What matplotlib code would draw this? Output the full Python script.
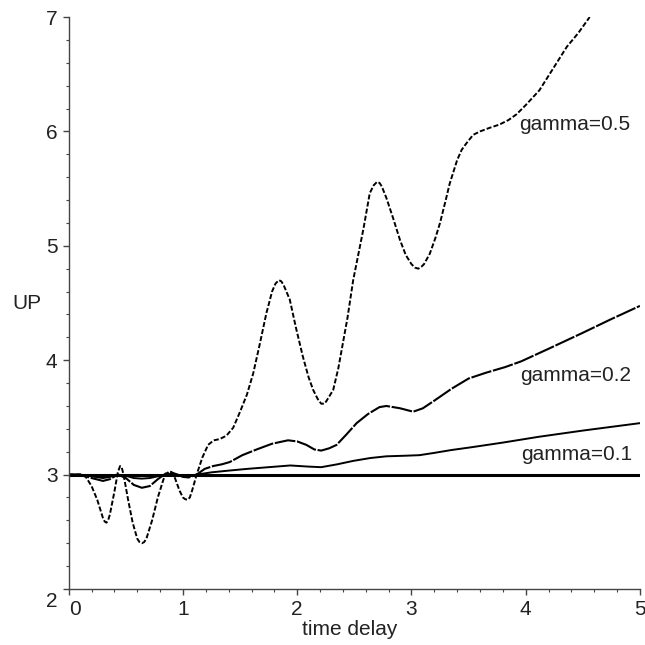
import matplotlib
matplotlib.use("Agg")
import matplotlib.pyplot as plt
import matplotlib.transforms as mtransforms

# values
t_05 = [0, 0.1, 0.15, 0.2, 0.25, 0.3, 0.315, 0.33, 0.345, 0.36, 0.4, 0.43, 0.45, 0.465, 0.48,
        0.52, 0.56, 0.6, 0.62, 0.64, 0.66, 0.68, 0.73, 0.78, 0.83, 0.87, 0.895, 0.93, 0.97,
        1.0, 1.02, 1.04, 1.06, 1.08, 1.12, 1.17, 1.22, 1.27, 1.32, 1.38, 1.44, 1.5, 1.56,
        1.615, 1.67, 1.73, 1.78, 1.81, 1.84, 1.86, 1.88, 1.935, 1.99, 2.05, 2.1, 2.14, 2.18,
        2.21, 2.24, 2.26, 2.315, 2.36, 2.4, 2.44, 2.49, 2.54, 2.58, 2.635, 2.67, 2.7, 2.72,
        2.74, 2.78, 2.84, 2.9, 2.95, 3.0, 3.03, 3.06, 3.09, 3.11, 3.16, 3.21, 3.25, 3.3,
        3.335, 3.4, 3.44, 3.48, 3.54, 3.6, 3.68, 3.77, 3.85, 3.92, 4.0, 4.12, 4.24, 4.36,
        4.46, 4.56]
up_05 = [3.0, 3.0, 2.98, 2.9, 2.78, 2.62, 2.59, 2.58, 2.6, 2.65, 2.85, 3.02, 3.075, 3.06, 3.0,
         2.78, 2.58, 2.44, 2.41, 2.4, 2.41, 2.44, 2.6, 2.8, 2.96, 3.02, 3.025, 2.97, 2.86,
         2.8, 2.785, 2.78, 2.8, 2.86, 3.0, 3.15, 3.26, 3.3, 3.31, 3.34, 3.41, 3.55, 3.7,
         3.885, 4.13, 4.41, 4.6, 4.67, 4.7, 4.69, 4.66, 4.53, 4.28, 4.03, 3.85, 3.74, 3.66,
         3.62, 3.62, 3.65, 3.74, 3.93, 4.15, 4.37, 4.7, 4.95, 5.15, 5.46, 5.53, 5.56, 5.55,
         5.52, 5.42, 5.24, 5.05, 4.92, 4.84, 4.81, 4.8, 4.82, 4.84, 4.93, 5.07, 5.2, 5.4,
         5.545, 5.75, 5.84, 5.895, 5.97, 6.0, 6.03, 6.06, 6.1, 6.15, 6.23, 6.36, 6.55, 6.74,
         6.86, 7.0]

t_02 = [0, 0.1, 0.2, 0.3, 0.36, 0.43, 0.5, 0.57, 0.64, 0.71, 0.78, 0.85, 0.9, 0.95, 1.0, 1.05,
        1.12, 1.19, 1.265, 1.34, 1.41, 1.52, 1.645, 1.78, 1.92, 2.0, 2.08, 2.15, 2.21, 2.28,
        2.345, 2.43, 2.52, 2.62, 2.72, 2.78, 2.9, 3.015, 3.1, 3.205, 3.35, 3.5, 3.65, 3.82,
        3.96, 4.2, 4.5, 4.75, 5.0]
up_02 = [3.0, 3.0, 2.97, 2.945, 2.96, 3.0, 2.97, 2.91, 2.885, 2.9, 2.96, 3.01, 3.02, 3.0, 2.98,
         2.975, 3.0, 3.05, 3.075, 3.09, 3.11, 3.17, 3.22, 3.27, 3.3, 3.29, 3.26, 3.22, 3.21, 3.23,
         3.26, 3.35, 3.45, 3.53, 3.59, 3.6, 3.58, 3.55, 3.58, 3.65, 3.75, 3.84, 3.89, 3.94,
         3.99, 4.1, 4.24, 4.36, 4.475]

t_01 = [0, 0.1, 0.2, 0.3, 0.36, 0.43, 0.5, 0.57, 0.64, 0.71, 0.8, 0.9, 1.0, 1.05, 1.12, 1.25,
        1.4, 1.56, 1.75, 1.94, 2.1, 2.21, 2.35, 2.49, 2.64, 2.78, 2.94, 3.07, 3.2, 3.35, 3.53,
        3.8, 4.11, 4.5, 5.0]
up_01 = [3.0, 3.0, 2.985, 2.97, 2.98, 3.0, 2.99, 2.97, 2.965, 2.97, 2.99, 3.01, 2.99, 2.99, 3.0,
         3.02, 3.035, 3.05, 3.065, 3.08, 3.07, 3.065, 3.09, 3.12, 3.145, 3.16, 3.165, 3.17, 3.19,
         3.215, 3.24, 3.28, 3.33, 3.385, 3.45]

t_00 = [0, 5]
up_00 = [3.0, 3.0]

labels = ["gamma=0.5", "gamma=0.2", "gamma=0.1"]
label_x = [3.94, 3.95, 3.96]
label_y = [6.01, 3.82, 3.128]

plt.rcParams['font.family'] = ['Liberation Sans', 'DejaVu Sans']

fig = plt.figure(figsize=(6.45, 6.45), dpi=100)
ax = fig.add_axes([0.1065, 0.0868, 0.8857, 0.8868])

ax.plot(t_00, up_00, color='black', lw=2.2)
ax.plot(t_01, up_01, color='black', lw=1.4)
ax.plot(t_02, up_02, color='black', lw=1.5, dashes=(10, 0.8))
ax.plot(t_05, up_05, color='black', lw=1.4, dashes=(2.6, 1.1))

for txt, lx, ly in zip(labels, label_x, label_y):
    ax.text(lx, ly, txt, fontsize=15, ha='left', va='baseline', color='#222222')

ax.set_xlim(0, 5)
ax.set_ylim(2, 7)
ax.set_xticks([0, 1, 2, 3, 4, 5])
ax.set_yticks([2, 3, 4, 5, 6, 7])
ax.set_xticks([i * 0.2 for i in range(26)], minor=True)
ax.set_yticks([2 + i * 0.2 for i in range(26)], minor=True)

ax.spines['top'].set_visible(False)
ax.spines['right'].set_visible(False)
for s in ['left', 'bottom']:
    ax.spines[s].set_color('#444444')
    ax.spines[s].set_linewidth(1.0)

ax.tick_params(which='major', length=4, width=1, color='#444444', labelsize=15, pad=4,
               labelcolor='#222222')
ax.tick_params(which='minor', length=2.3, width=0.8, color='#444444')

# corner labels are nudged apart like in the original
xl = ax.get_xticklabels()
xl[0].set_ha('left')
yl = ax.get_yticklabels()
yl[0].set_transform(yl[0].get_transform() +
                    mtransforms.ScaledTranslation(0, -0.10, fig.dpi_scale_trans))

ax.set_xlabel("time delay", fontsize=15, color='#222222', va='center')
ax.set_ylabel("UP", fontsize=15, rotation=0, color='#222222', va='center', ha='center')
ax.xaxis.set_label_coords(0.492, -0.07)
ax.yaxis.set_label_coords(-0.073, 0.5)

fig.savefig("out.png", dpi=100)
